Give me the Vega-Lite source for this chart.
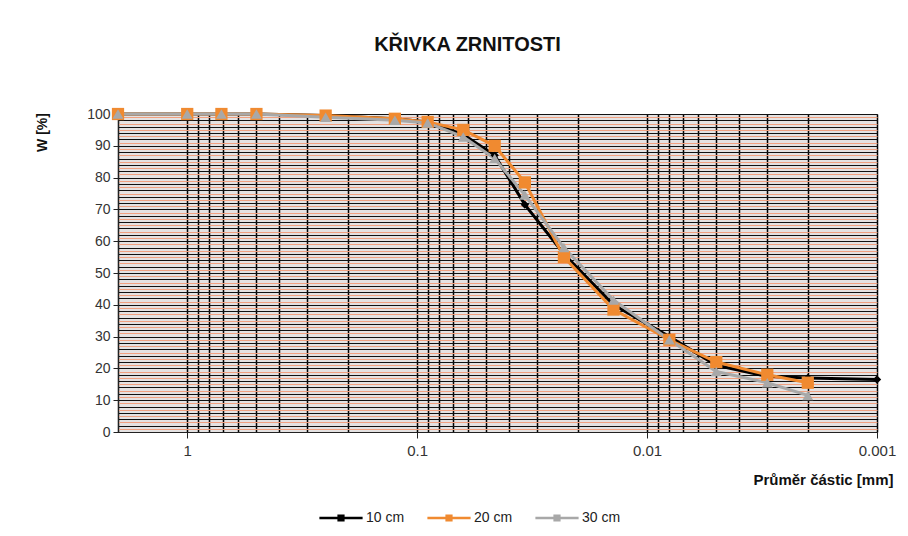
{
  "$schema": "https://vega.github.io/schema/vega-lite/v6.json",
  "width": 759,
  "height": 318,
  "autosize": {"type": "none"},
  "padding": {"left": 118, "top": 114, "right": 31, "bottom": 104},
  "background": "white",
  "title": {
    "text": "KŘIVKA ZRNITOSTI",
    "font": "Liberation Sans",
    "fontSize": 20,
    "fontWeight": "bold",
    "color": "#111111",
    "anchor": "middle",
    "dx": -30,
    "offset": 52
  },
  "config": {
    "font": "Liberation Sans",
    "view": {"fill": "#e4e2e2", "stroke": "#555555", "strokeWidth": 1}
  },
  "data": {
    "values": [
      {"d": 2, "w": 100, "s": "10 cm"},
      {"d": 1, "w": 100, "s": "10 cm"},
      {"d": 0.71, "w": 100, "s": "10 cm"},
      {"d": 0.5, "w": 100, "s": "10 cm"},
      {"d": 0.25, "w": 99.5, "s": "10 cm"},
      {"d": 0.125, "w": 98.5, "s": "10 cm"},
      {"d": 0.09, "w": 97.5, "s": "10 cm"},
      {"d": 0.063, "w": 93.5, "s": "10 cm"},
      {"d": 0.046, "w": 87, "s": "10 cm"},
      {"d": 0.034, "w": 71.5, "s": "10 cm"},
      {"d": 0.023, "w": 56, "s": "10 cm"},
      {"d": 0.014, "w": 40, "s": "10 cm"},
      {"d": 0.008, "w": 30, "s": "10 cm"},
      {"d": 0.005, "w": 21, "s": "10 cm"},
      {"d": 0.003, "w": 17.5, "s": "10 cm"},
      {"d": 0.002, "w": 17, "s": "10 cm"},
      {"d": 0.001, "w": 16.5, "s": "10 cm"},
      {"d": 2, "w": 100, "s": "20 cm"},
      {"d": 1, "w": 100, "s": "20 cm"},
      {"d": 0.71, "w": 100, "s": "20 cm"},
      {"d": 0.5, "w": 100, "s": "20 cm"},
      {"d": 0.25, "w": 99.5, "s": "20 cm"},
      {"d": 0.125, "w": 98.5, "s": "20 cm"},
      {"d": 0.09, "w": 97.5, "s": "20 cm"},
      {"d": 0.063, "w": 95, "s": "20 cm"},
      {"d": 0.046, "w": 90, "s": "20 cm"},
      {"d": 0.034, "w": 78.5, "s": "20 cm"},
      {"d": 0.023, "w": 55, "s": "20 cm"},
      {"d": 0.014, "w": 38.5, "s": "20 cm"},
      {"d": 0.008, "w": 29, "s": "20 cm"},
      {"d": 0.005, "w": 22, "s": "20 cm"},
      {"d": 0.003, "w": 18, "s": "20 cm"},
      {"d": 0.002, "w": 15.5, "s": "20 cm"},
      {"d": 2, "w": 100, "s": "30 cm"},
      {"d": 1, "w": 100, "s": "30 cm"},
      {"d": 0.71, "w": 100, "s": "30 cm"},
      {"d": 0.5, "w": 100, "s": "30 cm"},
      {"d": 0.25, "w": 99, "s": "30 cm"},
      {"d": 0.125, "w": 98, "s": "30 cm"},
      {"d": 0.09, "w": 97.2, "s": "30 cm"},
      {"d": 0.063, "w": 92.8, "s": "30 cm"},
      {"d": 0.046, "w": 86, "s": "30 cm"},
      {"d": 0.034, "w": 74.5, "s": "30 cm"},
      {"d": 0.023, "w": 58, "s": "30 cm"},
      {"d": 0.014, "w": 41.5, "s": "30 cm"},
      {"d": 0.008, "w": 29, "s": "30 cm"},
      {"d": 0.005, "w": 19, "s": "30 cm"},
      {"d": 0.003, "w": 15.5, "s": "30 cm"},
      {"d": 0.002, "w": 11.5, "s": "30 cm"}
    ]
  },
  "encoding": {
    "x": {
      "field": "d",
      "type": "quantitative",
      "scale": {"type": "log", "domain": [0.001, 2], "reverse": true, "nice": false},
      "axis": {
        "values": [0.001, 0.002, 0.003, 0.004, 0.005, 0.006, 0.007, 0.008, 0.009, 0.01, 0.02, 0.03, 0.04, 0.05, 0.06, 0.07, 0.08, 0.09, 0.1, 0.2, 0.3, 0.4, 0.5, 0.6, 0.7, 0.8, 0.9, 1, 2],
        "format": "~g",
        "labelExpr": "(datum.value == 1 || datum.value == 0.1 || datum.value == 0.01 || datum.value == 0.001) ? datum.label : ''",
        "grid": true,
        "gridColor": "#000000",
        "gridOpacity": 1,
        "gridWidth": 1.5,
        "tickColor": {"condition": {"test": "datum.value == 1 || datum.value == 0.1 || datum.value == 0.01 || datum.value == 0.001", "value": "#222222"}, "value": "transparent"},
        "tickSize": 6,
        "domainColor": "#222222",
        "labelColor": "#333333",
        "labelFontSize": 15,
        "labelPadding": 5,
        "labelFlush": false,
        "labelOverlap": false,
        "title": "Průměr částic [mm]",
        "titleFontSize": 15,
        "titleFontWeight": "bold",
        "titleColor": "#111111",
        "titleAlign": "right",
        "titleAnchor": "end",
        "titleBaseline": "middle",
        "titleX": 775,
        "titleY": 47
      }
    },
    "y": {
      "field": "w",
      "type": "quantitative",
      "scale": {"domain": [0, 100], "nice": false},
      "axis": {
        "values": [0,1,2,3,4,5,6,7,8,9,10,11,12,13,14,15,16,17,18,19,20,21,22,23,24,25,26,27,28,29,30,31,32,33,34,35,36,37,38,39,40,41,42,43,44,45,46,47,48,49,50,51,52,53,54,55,56,57,58,59,60,61,62,63,64,65,66,67,68,69,70,71,72,73,74,75,76,77,78,79,80,81,82,83,84,85,86,87,88,89,90,91,92,93,94,95,96,97,98,99,100],
        "labelExpr": "datum.value % 10 == 0 ? datum.label : ''",
        "grid": true,
        "gridColor": {"condition": {"test": "datum.value % 2 == 1", "value": "#f0a080"}, "value": "#111111"},
        "gridOpacity": 1,
        "gridWidth": 1.2,
        "tickColor": {"condition": {"test": "datum.value % 10 == 0", "value": "#222222"}, "value": "transparent"},
        "tickSize": 5,
        "domainColor": "#222222",
        "labelColor": "#333333",
        "labelFontSize": 14,
        "labelPadding": 3,
        "labelOverlap": false,
        "labelFlush": false,
        "title": "W  [%]",
        "titleFontSize": 14,
        "titleFontWeight": "bold",
        "titleColor": "#111111",
        "titleAngle": 270,
        "titleAlign": "center",
        "titleBaseline": "middle",
        "titleX": -76,
        "titleY": 18
      }
    },
    "color": {
      "field": "s",
      "type": "nominal",
      "scale": {"domain": ["10 cm", "20 cm", "30 cm"], "range": ["#000000", "#f08a30", "#a8a8a8"]},
      "legend": {
        "title": null,
        "orient": "none",
        "legendX": 215,
        "legendY": 396,
        "direction": "horizontal",
        "labelFontSize": 14,
        "labelColor": "#222222",
        "labelOffset": 17,
        "symbolType": "M-2.7,-0.17H2.7V0.17H-2.7Z M-0.45,-0.45H0.45V0.45H-0.45Z",
        "symbolSize": 256,
        "symbolStrokeWidth": 0,
        "columnPadding": 22
      }
    }
  },
  "layer": [
    {
      "mark": {"type": "line", "strokeWidth": 3, "clip": false}
    },
    {
      "transform": [{"filter": "datum.s == '10 cm'"}],
      "mark": {"type": "point", "shape": "diamond", "size": 70, "filled": true, "opacity": 1, "clip": false}
    },
    {
      "transform": [{"filter": "datum.s == '20 cm'"}],
      "mark": {"type": "point", "shape": "square", "size": 150, "filled": true, "opacity": 1, "clip": false}
    },
    {
      "transform": [{"filter": "datum.s == '30 cm'"}],
      "mark": {"type": "point", "shape": "triangle-up", "size": 120, "filled": true, "opacity": 1, "clip": false}
    }
  ]
}
